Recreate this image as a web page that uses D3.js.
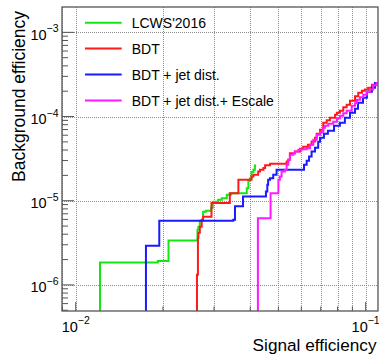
<!DOCTYPE html>
<html>
<head>
<meta charset="utf-8">
<script src="https://cdn.jsdelivr.net/npm/d3@7/dist/d3.min.js"></script>
<style>
  html, body { margin: 0; padding: 0; background: #fff; }
  svg { display: block; font-family: "Liberation Sans", Arial, Helvetica, sans-serif; }
</style>
</head>
<body>
<svg id="chart" width="379" height="355"></svg>
<script>
// ROC curves: background efficiency vs signal efficiency (step curves)
const seriesNames = ["LCWS'2016", "BDT", "BDT + jet dist.", "BDT + jet dist.+ Escale"];
const seriesColors = ["#14e614", "#ff1a1a", "#1a1aff", "#ff1aff"];

const lcwsSig = [0.01213, 0.0192, 0.0209, 0.0263, 0.0265, 0.0268, 0.0275, 0.0281, 0.0293, 0.0297, 0.0310, 0.0319, 0.0332, 0.0343, 0.0389, 0.0394, 0.0399, 0.0404, 0.0410, 0.0415, 0.0419];
const lcwsBkg = [3e-7, 1.85e-6, 1.93e-6, 3.37e-6, 4.51e-6, 4.90e-6, 5.77e-6, 7.38e-6, 7.59e-6, 8.24e-6, 9.70e-6, 1.025e-5, 1.067e-5, 1.175e-5, 1.224e-5, 1.41e-5, 1.72e-5, 1.855e-5, 2.20e-5, 2.33e-5, 2.62e-5];

const bdtSig = [0.0262, 0.0264, 0.0265, 0.0268, 0.0272, 0.0275, 0.0294, 0.0340, 0.0364, 0.0404, 0.0410, 0.0426, 0.0432, 0.0444, 0.0450, 0.0468, 0.0534, 0.0541, 0.0548, 0.0570, 0.0594, 0.0609, 0.0632, 0.0651, 0.0669, 0.0678, 0.0696, 0.0714, 0.0734, 0.0753, 0.0784, 0.0796, 0.0815, 0.0837, 0.0860, 0.0883, 0.0919, 0.0943, 0.0971, 0.0994, 0.1020, 0.1051, 0.1077, 0.1107];
const bdtBkg = [3e-7, 1.32e-6, 3.63e-6, 4.16e-6, 4.90e-6, 5.93e-6, 6.44e-6, 9.37e-6, 1.224e-5, 1.77e-5, 1.94e-5, 2.03e-5, 2.22e-5, 2.33e-5, 2.44e-5, 2.63e-5, 2.74e-5, 2.92e-5, 3.06e-5, 3.67e-5, 3.84e-5, 4.13e-5, 4.37e-5, 4.61e-5, 5.05e-5, 5.58e-5, 6.23e-5, 6.95e-5, 8.42e-5, 9.01e-5, 9.65e-5, 1.048e-4, 1.106e-4, 1.168e-4, 1.286e-4, 1.377e-4, 1.536e-4, 1.738e-4, 1.912e-4, 2.02e-4, 2.10e-4, 2.19e-4, 2.38e-4, 2.51e-4];

const jetSig = [0.01747, 0.01942, 0.03495, 0.03543, 0.03775, 0.0453, 0.0458, 0.0461, 0.0468, 0.0480, 0.0493, 0.0613, 0.0626, 0.0638, 0.0651, 0.0669, 0.0686, 0.0696, 0.0718, 0.0741, 0.0778, 0.0815, 0.0848, 0.0883, 0.0919, 0.0941, 0.0979, 0.1010, 0.1051, 0.1077, 0.1107];
const jetBkg = [3e-7, 2.91e-6, 5.77e-6, 5.93e-6, 8.58e-6, 1.122e-5, 1.286e-5, 1.545e-5, 1.77e-5, 1.855e-5, 2.03e-5, 2.33e-5, 2.67e-5, 2.98e-5, 3.35e-5, 3.84e-5, 4.25e-5, 5.01e-5, 5.58e-5, 6.23e-5, 6.76e-5, 7.75e-5, 8.42e-5, 9.65e-5, 1.106e-4, 1.234e-4, 1.455e-4, 1.668e-4, 1.965e-4, 2.19e-4, 2.51e-4];

const escSig = [0.0425, 0.0470, 0.0500, 0.0506, 0.0513, 0.0527, 0.0534, 0.0541, 0.0548, 0.0563, 0.0570, 0.0586, 0.0602, 0.0626, 0.0643, 0.0660, 0.0678, 0.0696, 0.0714, 0.0724, 0.0743, 0.0773, 0.0796, 0.0815, 0.0837, 0.0860, 0.0895, 0.0919, 0.0933, 0.0956, 0.0981, 0.1008, 0.1035, 0.1062, 0.1091, 0.1107];
const escBkg = [3e-7, 6.21e-6, 1.23e-5, 1.77e-5, 1.94e-5, 2.22e-5, 2.33e-5, 2.67e-5, 3.06e-5, 3.51e-5, 3.67e-5, 3.84e-5, 4.02e-5, 4.10e-5, 4.21e-5, 4.61e-5, 5.29e-5, 6.06e-5, 6.49e-5, 7.34e-5, 7.75e-5, 8.19e-5, 8.65e-5, 9.52e-5, 1.019e-4, 1.091e-4, 1.168e-4, 1.34e-4, 1.435e-4, 1.579e-4, 1.69e-4, 1.81e-4, 1.965e-4, 2.10e-4, 2.35e-4, 2.51e-4];

const xDomain = [0.00897, 0.1103];
const yDomain = [4.9e-7, 2.0e-3];
const xMajorTicks = [0.01, 0.1];
const xMajorExp = ["-2", "-1"];
const yMajorTicks = [1e-6, 1e-5, 1e-4, 1e-3];
const yMajorExp = ["-6", "-5", "-4", "-3"];
const xTitle = "Signal efficiency";
const yTitle = "Background efficiency";

const frame = { left: 62, right: 378, top: 7, bottom: 311 };
const svg = d3.select("#chart");

const x = d3.scaleLog().domain(xDomain).range([frame.left, frame.right]);
const y = d3.scaleLog().domain(yDomain).range([frame.bottom, frame.top]);

// minor tick positions (2..9 x 10^n) inside the domain
function minorTicks(domain) {
  const out = [];
  const lo = Math.floor(Math.log10(domain[0])), hi = Math.ceil(Math.log10(domain[1]));
  for (let e = lo; e <= hi; e++) {
    for (let m = 1; m <= 9; m++) {
      const v = m * Math.pow(10, e);
      if (v > domain[0] * 1.001 && v < domain[1] * 0.999) out.push(v);
    }
  }
  return out;
}
const xAll = minorTicks(xDomain);
const yAll = minorTicks(yDomain);

svg.append("rect").attr("width", 379).attr("height", 355).attr("fill", "#fff");

// grid: every x tick, y decades
const grid = svg.append("g").attr("stroke", "#8c8c8c").attr("stroke-width", 1).attr("stroke-dasharray", "1,1");
grid.selectAll("line.gx").data(xAll).join("line")
  .attr("x1", d => Math.round(x(d)) + 0.5).attr("x2", d => Math.round(x(d)) + 0.5)
  .attr("y1", frame.top).attr("y2", frame.bottom);
grid.selectAll("line.gy").data(yMajorTicks).join("line")
  .attr("y1", d => Math.round(y(d)) + 0.5).attr("y2", d => Math.round(y(d)) + 0.5)
  .attr("x1", frame.left).attr("x2", frame.right);

// curves
const clip = svg.append("clipPath").attr("id", "plotclip").append("rect")
  .attr("x", frame.left).attr("y", frame.top)
  .attr("width", frame.right - frame.left).attr("height", frame.bottom - frame.top);

const series = [
  { sig: lcwsSig, bkg: lcwsBkg },
  { sig: bdtSig, bkg: bdtBkg },
  { sig: jetSig, bkg: jetBkg },
  { sig: escSig, bkg: escBkg }
];
const line = d3.line().x(d => x(d[0])).y(d => y(d[1])).curve(d3.curveStepBefore);
const curves = svg.append("g").attr("clip-path", "url(#plotclip)");
series.forEach((s, i) => {
  const pts = s.sig.map((v, k) => [v, s.bkg[k]]);
  curves.append("path").datum(pts)
    .attr("d", line)
    .attr("fill", "none")
    .attr("stroke", seriesColors[i])
    .attr("stroke-width", 2)
    .attr("stroke-linejoin", "miter");
});

// ticks (inside the frame)
const tickCol = "#555";
const ticks = svg.append("g").attr("stroke", tickCol).attr("stroke-width", 1);
ticks.selectAll("line.tx").data(xAll).join("line")
  .attr("x1", d => x(d)).attr("x2", d => x(d))
  .attr("y1", frame.bottom)
  .attr("y2", d => frame.bottom - (xMajorTicks.some(t => Math.abs(t - d) < 1e-9) ? 9 : 4.5));
ticks.selectAll("line.ty").data(yAll).join("line")
  .attr("y1", d => y(d)).attr("y2", d => y(d))
  .attr("x1", frame.left)
  .attr("x2", d => frame.left + (yMajorTicks.some(t => Math.abs(t / d - 1) < 1e-6) ? 12 : 6));

// frame
svg.append("rect")
  .attr("x", frame.left).attr("y", frame.top)
  .attr("width", frame.right - frame.left).attr("height", frame.bottom - frame.top)
  .attr("fill", "none").attr("stroke", "#555").attr("stroke-width", 1.3);

// tick labels as 10^n
const labels = svg.append("g").attr("fill", "#000");
yMajorTicks.forEach((v, i) => {
  const t = labels.append("text")
    .attr("x", 58.5).attr("y", y(v) + 7.5)
    .attr("text-anchor", "end");
  t.append("tspan").attr("font-size", 14.5).text("10");
  t.append("tspan").attr("font-size", 10.5).attr("dy", -7.5).text(yMajorExp[i].replace("-", "\u2212"));
});
xMajorTicks.forEach((v, i) => {
  const t = labels.append("text")
    .attr("x", x(v)).attr("y", frame.bottom + 20.5)
    .attr("text-anchor", "middle");
  t.append("tspan").attr("font-size", 14.5).text("10");
  t.append("tspan").attr("font-size", 10.5).attr("dy", -7.5).text(xMajorExp[i].replace("-", "\u2212"));
});

// axis titles
svg.append("text")
  .attr("x", 376.5).attr("y", 350.5)
  .attr("text-anchor", "end").attr("font-size", 17.2)
  .text(xTitle);
svg.append("text")
  .attr("transform", "translate(24.5,11) rotate(-90)")
  .attr("text-anchor", "end").attr("font-size", 17.5)
  .text(yTitle);

// legend
const legend = svg.append("g");
seriesNames.forEach((name, i) => {
  const ly = 22.7 + i * 25.9;
  legend.append("line")
    .attr("x1", 85).attr("x2", 121.7).attr("y1", ly).attr("y2", ly)
    .attr("stroke", seriesColors[i]).attr("stroke-width", 2);
  legend.append("text")
    .attr("x", 131.7).attr("y", ly + 5.4)
    .attr("font-size", 14).text(name);
});
</script>
</body>
</html>
